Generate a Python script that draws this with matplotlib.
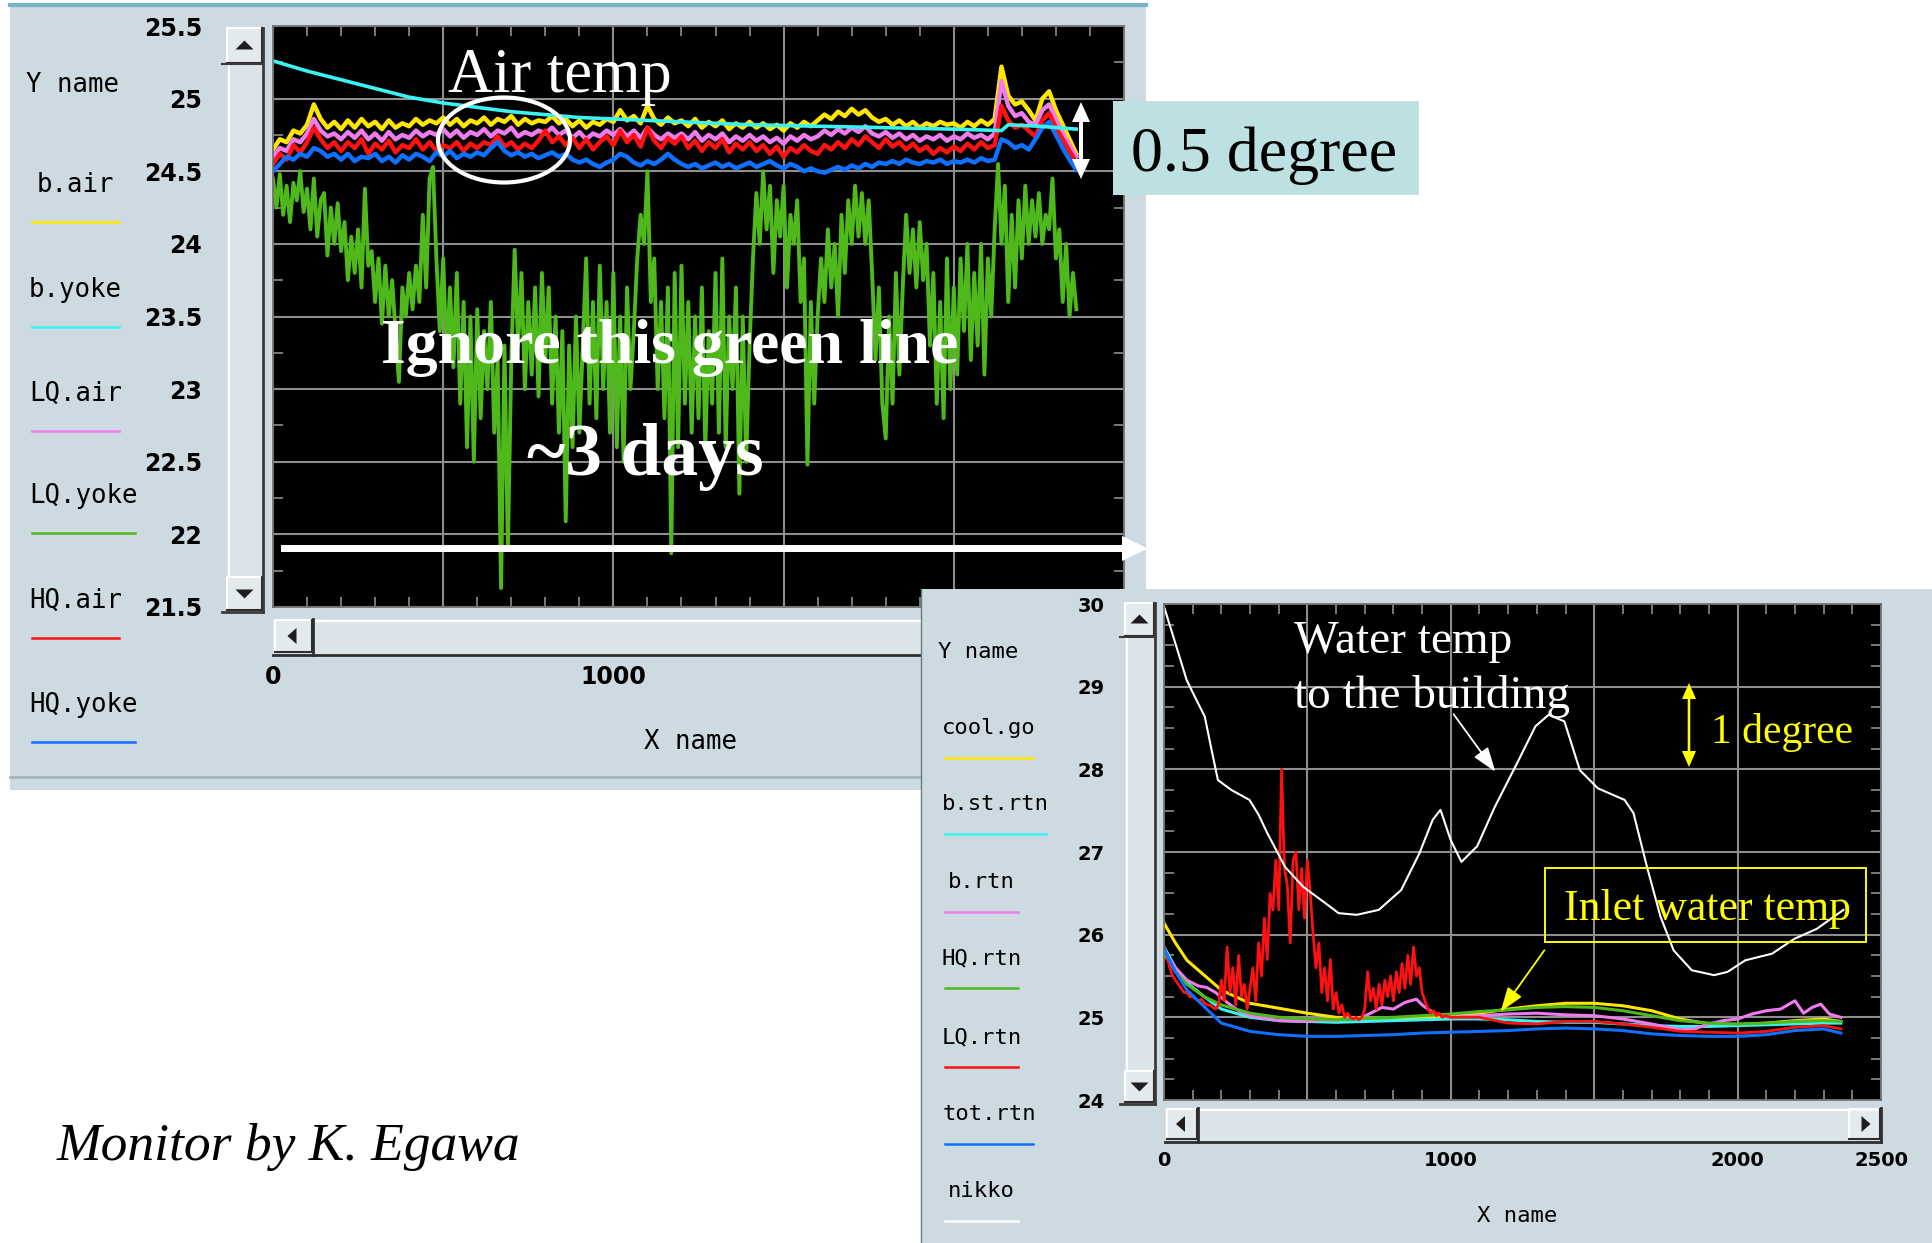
import matplotlib
matplotlib.use("Agg")
import matplotlib.pyplot as plt
from matplotlib.patches import Rectangle, Ellipse, Polygon, FancyArrowPatch
from matplotlib.ticker import MultipleLocator

W, H = 1932, 1243

# ---------------- upper monitor: air / yoke temperatures ----------------
AIR_X = list(range(0, 2361, 20))
B_AIR = [
    24.65, 24.72, 24.70, 24.78, 24.76, 24.82, 24.96, 24.86, 24.80, 24.84,
    24.79, 24.85, 24.80, 24.86, 24.81, 24.84, 24.79, 24.85, 24.80, 24.83,
    24.81, 24.86, 24.82, 24.85, 24.83, 24.87, 24.82, 24.86, 24.81, 24.85,
    24.83, 24.87, 24.82, 24.86, 24.84, 24.88, 24.82, 24.86, 24.83, 24.85,
    24.84, 24.88, 24.83, 24.86, 24.81, 24.85, 24.80, 24.84, 24.82, 24.86,
    24.84, 24.92, 24.85, 24.88, 24.83, 24.95, 24.86, 24.82, 24.87, 24.83,
    24.85, 24.81, 24.86, 24.80, 24.84, 24.81, 24.85, 24.79, 24.83, 24.80,
    24.84, 24.80, 24.83, 24.79, 24.82, 24.78, 24.83, 24.80, 24.84, 24.81,
    24.85, 24.89, 24.86, 24.91, 24.88, 24.93, 24.89, 24.92, 24.87, 24.84,
    24.86, 24.82, 24.85, 24.81, 24.84, 24.80, 24.83, 24.81, 24.84, 24.82,
    24.83, 24.80, 24.84, 24.81, 24.85, 24.82, 24.86, 25.22, 25.02, 24.96,
    24.98, 24.92, 24.85, 25.00, 25.05, 24.92, 24.82, 24.72, 24.62]
LQ_AIR = [
    24.60, 24.66, 24.64, 24.72, 24.70, 24.76, 24.86, 24.78, 24.74, 24.76,
    24.72, 24.77, 24.73, 24.78, 24.72, 24.76, 24.71, 24.77, 24.72, 24.75,
    24.73, 24.78, 24.74, 24.77, 24.75, 24.79, 24.74, 24.78, 24.73, 24.77,
    24.75, 24.79, 24.74, 24.78, 24.76, 24.80, 24.74, 24.77, 24.75, 24.78,
    24.76, 24.80, 24.75, 24.78, 24.73, 24.77, 24.72, 24.76, 24.74, 24.78,
    24.75, 24.79, 24.74, 24.78, 24.73, 24.80, 24.75, 24.72, 24.76, 24.73,
    24.76, 24.72, 24.77, 24.71, 24.75, 24.72, 24.76, 24.70, 24.74, 24.71,
    24.75, 24.71, 24.74, 24.70, 24.73, 24.69, 24.74, 24.71, 24.75, 24.72,
    24.74, 24.78, 24.75, 24.79, 24.76, 24.80, 24.77, 24.81, 24.76, 24.74,
    24.77, 24.73, 24.76, 24.72, 24.75, 24.71, 24.74, 24.72, 24.75, 24.71,
    24.74, 24.72, 24.76, 24.73, 24.75, 24.72, 24.76, 25.12, 24.95, 24.88,
    24.90, 24.84, 24.82, 24.92, 24.96, 24.86, 24.76, 24.68, 24.60]
HQ_AIR = [
    24.55, 24.62, 24.58, 24.68, 24.63, 24.70, 24.80, 24.72, 24.66, 24.70,
    24.64, 24.70, 24.66, 24.72, 24.62, 24.69, 24.65, 24.71, 24.63, 24.68,
    24.66, 24.72, 24.65, 24.70, 24.64, 24.68, 24.66, 24.70, 24.64, 24.69,
    24.66, 24.70, 24.68, 24.74, 24.67, 24.70, 24.65, 24.69, 24.66, 24.71,
    24.78, 24.70, 24.74, 24.68, 24.73, 24.66, 24.72, 24.65, 24.70, 24.74,
    24.68, 24.78, 24.70, 24.75, 24.67, 24.80, 24.71, 24.66, 24.73, 24.69,
    24.74, 24.66, 24.71, 24.64, 24.70, 24.66, 24.72, 24.63, 24.69, 24.65,
    24.70, 24.64, 24.68, 24.62, 24.67, 24.60, 24.66, 24.63, 24.68, 24.64,
    24.62, 24.68, 24.65, 24.70, 24.66, 24.72, 24.68, 24.74, 24.70, 24.66,
    24.72, 24.67, 24.70, 24.65, 24.69, 24.64, 24.67, 24.62, 24.66, 24.63,
    24.67, 24.64, 24.69, 24.65, 24.70, 24.66, 24.68, 24.95, 24.85, 24.80,
    24.82, 24.78, 24.74, 24.85, 24.90, 24.80, 24.72, 24.64, 24.56]
HQ_YOKE = [
    24.50, 24.55, 24.60, 24.58, 24.62, 24.60, 24.66, 24.64, 24.60, 24.62,
    24.58, 24.62, 24.57, 24.60, 24.59, 24.62, 24.57, 24.60, 24.56, 24.61,
    24.58, 24.62, 24.60, 24.57, 24.63, 24.60, 24.64, 24.59, 24.62, 24.60,
    24.63, 24.61, 24.66, 24.70, 24.64, 24.61, 24.63, 24.60, 24.62, 24.59,
    24.61, 24.63, 24.60, 24.62, 24.58, 24.56, 24.58, 24.55, 24.53, 24.56,
    24.58, 24.62, 24.60, 24.56, 24.54, 24.57, 24.55, 24.58, 24.62, 24.58,
    24.55, 24.53, 24.55, 24.52, 24.54, 24.56, 24.53, 24.55, 24.52, 24.54,
    24.56, 24.53, 24.55, 24.57, 24.54, 24.52, 24.55, 24.53, 24.50, 24.52,
    24.50, 24.49, 24.51, 24.53, 24.51, 24.54, 24.52, 24.55, 24.53, 24.56,
    24.55, 24.57, 24.55, 24.58, 24.56, 24.55, 24.57, 24.56, 24.58, 24.55,
    24.57, 24.56, 24.58, 24.56, 24.59, 24.57, 24.58, 24.72, 24.70, 24.66,
    24.68, 24.65, 24.72, 24.80, 24.84, 24.75, 24.66, 24.58, 24.51]
YOKE_X = list(range(0, 2361, 10))
LQ_YOKE = [
    24.45, 24.25, 24.48, 24.20, 24.40, 24.15, 24.42, 24.30, 24.50, 24.22,
    24.38, 24.10, 24.45, 24.05, 24.30, 24.35, 23.92, 24.25, 24.00, 24.28,
    23.95, 24.15, 23.75, 24.05, 23.80, 24.10, 23.70, 24.38, 23.85, 23.95,
    23.60, 23.90, 23.45, 23.85, 23.50, 23.75, 23.40, 23.05, 23.70, 23.50,
    23.80, 23.55, 23.85, 23.60, 24.20, 23.70, 24.45, 24.53, 23.90, 23.40,
    23.90, 23.20, 23.70, 23.15, 23.80, 22.90, 23.60, 22.60, 23.50, 22.50,
    23.55, 22.80, 23.40, 23.00, 23.60, 22.70, 23.20, 21.63, 23.30, 21.90,
    23.20, 23.96, 23.30, 23.80, 23.00, 23.60, 23.10, 23.70, 22.95, 23.80,
    23.20, 23.70, 22.90, 23.50, 22.70, 23.40, 22.09, 23.30, 22.60, 23.50,
    22.70, 23.30, 23.90, 22.90, 23.60, 22.80, 23.85, 23.00, 23.60, 22.70,
    23.80, 22.60, 23.50, 22.50, 23.70, 23.00, 23.40, 23.90, 24.20, 24.00,
    24.50, 23.60, 23.90, 23.00, 23.60, 22.80, 23.70, 21.87, 23.80, 22.60,
    23.85, 22.90, 23.60, 22.70, 23.50, 22.80, 23.70, 22.60, 23.40, 22.90,
    23.80, 22.70, 23.90, 22.60, 23.50, 23.00, 23.70, 22.28, 23.50, 22.50,
    23.30, 23.90, 24.35, 24.00, 24.50, 24.10, 24.40, 23.80, 24.30, 24.05,
    24.40, 23.70, 24.20, 24.00, 24.30, 23.60, 23.90, 22.48, 23.60, 22.90,
    23.50, 23.90, 23.60, 24.10, 23.70, 24.00, 23.50, 24.20, 23.80, 24.30,
    24.00, 24.40, 24.05, 24.35, 24.00, 24.30, 23.80, 23.20, 23.70, 22.90,
    22.66, 23.50, 22.90, 23.80, 23.10, 23.70, 24.20, 23.80, 24.10, 23.70,
    24.15, 23.75, 24.00, 23.30, 23.80, 22.90, 23.60, 22.80, 23.90, 23.00,
    23.70, 23.10, 23.90, 23.40, 24.00, 23.20, 23.80, 23.30, 24.00, 23.10,
    23.90, 23.50, 24.10, 24.55, 24.00, 24.40, 23.60, 24.20, 23.70, 24.30,
    23.90, 24.40, 24.00, 24.30, 24.05, 24.35, 24.00, 24.20, 24.10, 24.45,
    23.90, 24.10, 23.60, 24.00, 23.50, 23.80, 23.55]
B_YOKE_X = [0, 100, 200, 300, 400, 500, 600, 700, 800, 900, 1000, 1200,
            1400, 1600, 1800, 2000, 2140, 2160, 2250, 2360]
B_YOKE = [25.26, 25.19, 25.13, 25.07, 25.01, 24.97, 24.94, 24.91, 24.89, 24.87,
          24.86, 24.84, 24.82, 24.81, 24.80, 24.79, 24.78, 24.82, 24.81, 24.79]
TOP_NAMES = ["b.air", "b.yoke", "LQ.air", "LQ.yoke", "HQ.air", "HQ.yoke"]
TOP_COLORS = ["#ffe600", "#3af2f2", "#ee7cee", "#4fb81a", "#ff1111", "#1070ff"]
TOP_XTICKS = [0, 500, 1000, 1500, 2000, 2500]
TOP_XLABELS = ["0", "", "1000", "", "2000", ""]
TOP_YTICKS = [21.5, 22.0, 22.5, 23.0, 23.5, 24.0, 24.5, 25.0, 25.5]
TOP_YLABELS = ["21.5", "22", "22.5", "23", "23.5", "24", "24.5", "25", "25.5"]

# ---------------- lower monitor: water temperatures ----------------
RTN_X = [0, 40, 80, 140, 200, 300, 400, 500, 600, 700, 800, 900, 1000, 1100,
         1200, 1300, 1400, 1500, 1600, 1700, 1800, 1900, 2000, 2100, 2200, 2300, 2360]
COOL_GO = [26.14, 25.90, 25.69, 25.51, 25.33, 25.17, 25.11, 25.05, 25.00, 24.99,
           24.99, 25.00, 25.02, 25.05, 25.10, 25.14, 25.17, 25.17, 25.14, 25.08,
           24.98, 24.92, 24.91, 24.93, 24.96, 24.98, 24.95]
HQ_RTN = [25.77, 25.55, 25.40, 25.25, 25.15, 25.05, 25.00, 24.98, 24.97, 24.99,
          25.00, 25.02, 25.04, 25.07, 25.09, 25.12, 25.13, 25.12, 25.08, 25.02,
          24.96, 24.93, 24.92, 24.93, 24.95, 24.96, 24.95]
B_ST_RTN = [25.85, 25.60, 25.42, 25.25, 25.10, 25.00, 24.96, 24.95, 24.94, 24.95,
            24.96, 24.97, 24.98, 24.98, 24.97, 24.95, 24.94, 24.94, 24.92, 24.90,
            24.89, 24.89, 24.90, 24.91, 24.92, 24.93, 24.93]
TOT_RTN = [25.83, 25.55, 25.33, 25.13, 24.93, 24.83, 24.79, 24.77, 24.77, 24.78,
           24.79, 24.81, 24.82, 24.83, 24.84, 24.86, 24.87, 24.86, 24.84, 24.80,
           24.78, 24.77, 24.77, 24.79, 24.84, 24.86, 24.81]
B_RTN_X = [0, 40, 80, 120, 150, 180, 220, 260, 300, 400, 500, 560, 600, 640, 680,
           720, 760, 800, 840, 880, 900, 940, 1000, 1100, 1200, 1300, 1400, 1500,
           1600, 1700, 1800, 1850, 1900, 1950, 2000, 2050, 2100, 2150, 2200, 2230,
           2260, 2290, 2320, 2360]
B_RTN = [25.80, 25.60, 25.45, 25.38, 25.36, 25.30, 25.18, 25.08, 25.02, 24.96,
         24.95, 24.97, 24.96, 25.00, 24.98, 25.05, 25.12, 25.10, 25.18, 25.22,
         25.15, 25.05, 25.00, 25.02, 25.04, 25.05, 25.03, 25.02, 24.98, 24.92,
         24.85, 24.86, 24.92, 24.96, 24.98, 25.04, 25.08, 25.10, 25.20, 25.05,
         25.12, 25.16, 25.04, 25.00]
LQ_RTN_X = list(range(0, 981, 10)) + list(range(1000, 2301, 100)) + [2360]
LQ_RTN = [
    25.85, 25.75, 25.60, 25.50, 25.45, 25.40, 25.35, 25.30, 25.30, 25.25,
    25.25, 25.22, 25.20, 25.22, 25.18, 25.15, 25.15, 25.12, 25.10, 25.15,
    25.45, 25.20, 25.85, 25.30, 25.60, 25.15, 25.75, 25.25, 25.40, 25.10,
    25.35, 25.60, 25.20, 25.90, 25.50, 26.20, 25.70, 26.50, 26.30, 26.90,
    26.30, 28.00, 26.80, 26.60, 25.90, 26.90, 27.00, 26.30, 26.80, 26.20,
    26.90, 26.50, 26.00, 25.60, 25.90, 25.30, 25.60, 25.20, 25.70, 25.10,
    25.30, 25.05, 25.15, 25.00, 25.05, 25.00, 24.98, 25.00, 24.97, 25.00,
    25.10, 25.55, 25.20, 25.35, 25.10, 25.40, 25.15, 25.45, 25.25, 25.50,
    25.20, 25.55, 25.30, 25.65, 25.35, 25.75, 25.40, 25.85, 25.50, 25.60,
    25.30, 25.20, 25.10, 25.05, 25.08, 25.02, 25.05, 25.00, 25.02,
    25.00, 25.00, 24.93, 24.92, 24.95, 24.95, 24.92, 24.88, 24.83, 24.82,
    24.81, 24.83, 24.88, 24.90, 24.86]
NIKKO_X = [0, 40, 79, 110, 142, 165, 188, 235, 298, 330, 360, 422, 485, 563, 609,
           672, 749, 827, 890, 937, 964, 999, 1037, 1092, 1154, 1232, 1295, 1341,
           1396, 1450, 1513, 1606, 1637, 1684, 1731, 1777, 1840, 1918, 1965, 2027,
           2120, 2198, 2276, 2369]
NIKKO = [29.97, 29.52, 29.08, 28.86, 28.64, 28.25, 27.87, 27.75, 27.63, 27.45,
         27.23, 26.82, 26.58, 26.38, 26.26, 26.24, 26.30, 26.54, 26.98, 27.39,
         27.51, 27.15, 26.88, 27.07, 27.55, 28.08, 28.52, 28.66, 28.58, 27.99,
         27.77, 27.63, 27.47, 26.82, 26.22, 25.81, 25.57, 25.51, 25.55, 25.69,
         25.77, 25.95, 26.07, 26.30]
BOT_NAMES = ["cool.go", "b.st.rtn", "b.rtn", "HQ.rtn", "LQ.rtn", "tot.rtn", "nikko"]
BOT_COLORS = ["#ffe600", "#3af2f2", "#ee7cee", "#4fb81a", "#ff1111", "#1070ff", "#ffffff"]
BOT_XTICKS = [0, 500, 1000, 1500, 2000, 2500]
BOT_XLABELS = ["0", "", "1000", "", "2000", "2500"]
BOT_YTICKS = [24, 25, 26, 27, 28, 29, 30]
BOT_YLABELS = ["24", "25", "26", "27", "28", "29", "30"]

# ---------------- figure helpers ----------------
BG = "#cddae1"
TROUGH = "#dbe4e9"
MONO = "DejaVu Sans Mono"
SERIF = "Liberation Serif"

fig = plt.figure(figsize=(W / 100, H / 100), dpi=100)
fig.patch.set_facecolor("white")


def rect(x0, y0, x1, y1):
    return [x0 / W, 1 - y1 / H, (x1 - x0) / W, (y1 - y0) / H]


def canvas(z):
    c = fig.add_axes([0, 0, 1, 1], zorder=z)
    c.set_xlim(0, W)
    c.set_ylim(H, 0)
    c.axis("off")
    c.patch.set_alpha(0)
    return c


def button(c, x0, y0, x1, y1, kind):
    c.add_patch(Rectangle((x0, y0), x1 - x0, y1 - y0, fc="#e3eaee", ec="none"))
    c.plot([x0, x0, x1], [y1, y0, y0], color="white", lw=1.5)
    c.plot([x0, x1, x1], [y1, y1, y0], color="#2e2e2e", lw=1.5)
    cx, cy = (x0 + x1) / 2, (y0 + y1) / 2
    if kind == "up":
        pts = [(cx - 9, cy + 4), (cx + 9, cy + 4), (cx, cy - 5)]
    elif kind == "down":
        pts = [(cx - 9, cy - 4), (cx + 9, cy - 4), (cx, cy + 5)]
    elif kind == "left":
        pts = [(cx + 3, cy - 8), (cx + 3, cy + 8), (cx - 6, cy)]
    else:
        pts = [(cx - 3, cy - 8), (cx - 3, cy + 8), (cx + 6, cy)]
    c.add_patch(Polygon(pts, closed=True, fc="#1e1e1e", ec="none"))


def vscroll(c, x0, x1, y0, y1, bh):
    c.add_patch(Rectangle((x0, y0), x1 - x0, y1 - y0, fc=TROUGH, ec="none"))
    c.plot([x0 + 2, x0 + 2], [y0 + bh + 2, y1 - bh - 2], color="white", lw=1.5)
    button(c, x0, y0, x1 - 1, y0 + bh, "up")
    button(c, x0, y1 - bh, x1 - 1, y1 - 2, "down")
    c.plot([x1, x1], [y0, y1], color="#3a3a3a", lw=2)
    c.plot([x0 - 5, x1], [y0 + bh + 1, y0 + bh + 1], color="#3a3a3a", lw=1.5)
    c.plot([x0 - 5, x1], [y1, y1], color="#3a3a3a", lw=2)


def hscroll(c, x0, x1, y0, y1, bw, right_button):
    c.add_patch(Rectangle((x0, y0), x1 - x0, y1 - y0, fc=TROUGH, ec="none"))
    c.plot([x0 + bw + 2, x1 - 2], [y0 + 2, y0 + 2], color="white", lw=1.5)
    button(c, x0 + 2, y0 + 1, x0 + bw, y1 - 3, "left")
    c.plot([x0 + bw + 1, x0 + bw + 1], [y0, y1], color="#2e2e2e", lw=2)
    if right_button:
        button(c, x1 - bw, y0 + 1, x1 - 1, y1 - 3, "right")
        c.plot([x1, x1], [y0, y1], color="#2e2e2e", lw=2)
    c.plot([x0, x1], [y1, y1], color="#2e2e2e", lw=2)


def style_axes(ax, xticks, xlabels, yticks, ylabels, xminor, yminor, fs, xpad, ypad):
    ax.set_facecolor("black")
    ax.set_xticks(xticks, xlabels, fontsize=fs, fontweight="bold", family="DejaVu Sans")
    ax.set_yticks(yticks, ylabels, fontsize=fs, fontweight="bold", family="DejaVu Sans")
    ax.xaxis.set_minor_locator(MultipleLocator(xminor))
    ax.yaxis.set_minor_locator(MultipleLocator(yminor))
    ax.grid(True, which="major", color="#8e8e8e", lw=1.5)
    ax.set_axisbelow(True)
    ax.tick_params(which="major", length=0)
    ax.tick_params(axis="x", which="major", pad=xpad)
    ax.tick_params(axis="y", which="major", pad=ypad)
    ax.tick_params(which="minor", direction="in", length=7, width=1.1,
                   color="#9a9a9a", top=True, right=True, bottom=True, left=True)
    for s in ax.spines.values():
        s.set_color("#6a6a6a")
        s.set_linewidth(1.2)


# ================= upper window =================
c1 = canvas(0.5)
c1.add_patch(Rectangle((10, 6), 1136, 784, fc=BG, ec="none"))
c1.plot([10, 1146], [5, 5], color="#78b4c8", lw=3)
c1.plot([10, 1146], [777, 777], color="#a3b3bb", lw=2)
vscroll(c1, 227, 263, 28, 612, 35)
hscroll(c1, 273, 1124, 619, 655, 39, False)

ytxt = [85, 185, 290, 394, 496, 601, 705]
c1.text(73, ytxt[0], "Y name", family=MONO, fontsize=18.5, ha="center", va="center")
for i, (nm, col) in enumerate(zip(TOP_NAMES, TOP_COLORS)):
    ln = 87 if len(nm) <= 6 else 103
    c1.text(32 + ln / 2, ytxt[i + 1], nm, family=MONO, fontsize=18.5, ha="center", va="center")
    c1.plot([32, 32 + ln], [ytxt[i + 1] + 37, ytxt[i + 1] + 37], color=col, lw=1.8)
c1.text(691, 742, "X name", family=MONO, fontsize=18.5, ha="center", va="center")

ax1 = fig.add_axes(rect(273, 26, 1124, 607), zorder=1)
ax1.plot(YOKE_X, LQ_YOKE, color=TOP_COLORS[3], lw=2.8)
ax1.plot(AIR_X, B_AIR, color=TOP_COLORS[0], lw=3.2)
ax1.plot(AIR_X, LQ_AIR, color=TOP_COLORS[2], lw=3.2)
ax1.plot(AIR_X, HQ_AIR, color=TOP_COLORS[4], lw=3.2)
ax1.plot(AIR_X, HQ_YOKE, color=TOP_COLORS[5], lw=3.2)
ax1.plot(B_YOKE_X, B_YOKE, color=TOP_COLORS[1], lw=2.6)
ax1.set_xlim(0, 2500)
ax1.set_ylim(21.5, 25.5)
style_axes(ax1, TOP_XTICKS, TOP_XLABELS, TOP_YTICKS, TOP_YLABELS, 100, 0.25, 17, 42, 51)

# overlay annotations on upper window
c1b = canvas(1.5)
c1b.text(560, 92, "Air temp", family=SERIF, fontsize=45, color="white", ha="center", va="baseline")
c1b.add_patch(Ellipse((504, 140), 132, 85, fill=False, ec="white", lw=3))
c1b.text(670, 363, "Ignore this green line", family=SERIF, fontweight="bold", fontsize=46,
         color="white", ha="center", va="baseline")
c1b.text(645, 475, "~3 days", family=SERIF, fontweight="bold", fontsize=53,
         color="white", ha="center", va="baseline")
c1b.add_patch(Polygon([(281, 545), (1122, 545), (1122, 536), (1148, 548.5), (1122, 561),
                       (1122, 552), (281, 552)], closed=True, fc="white", ec="none"))
c1b.add_patch(Polygon([(1081, 102), (1090, 122), (1083, 122), (1083, 159), (1090, 159),
                       (1081, 179), (1072, 159), (1079, 159), (1079, 122), (1072, 122)],
                      closed=True, fc="white", ec="none"))
c1b.add_patch(Rectangle((1113, 101), 306, 94, fc="#bde0e3", ec="none"))
c1b.text(1131, 171, "0.5 degree", family=SERIF, fontsize=46, color="black", ha="left", va="baseline")
c1b.text(57, 1160, "Monitor by K. Egawa", family=SERIF, style="italic", fontsize=38.5,
         color="black", ha="left", va="baseline")

# ================= lower window =================
c2 = canvas(2)
c2.add_patch(Rectangle((921, 589), 1011, 654, fc=BG, ec="none"))
c2.plot([921, 921], [589, 1243], color="#6a7a82", lw=1)
vscroll(c2, 1125, 1155, 603, 1104, 33)
hscroll(c2, 1165, 1881, 1108, 1142, 32, True)

ytxt2 = [652, 728, 804, 882, 958, 1037, 1114, 1191]
c2.text(978, ytxt2[0], "Y name", family=MONO, fontsize=16, ha="center", va="center")
for i, (nm, col) in enumerate(zip(BOT_NAMES, BOT_COLORS)):
    ln = 73 if len(nm) <= 6 else (88 if len(nm) == 7 else 101)
    c2.text(945 + ln / 2, ytxt2[i + 1], nm, family=MONO, fontsize=16, ha="center", va="center")
    c2.plot([945, 945 + ln], [ytxt2[i + 1] + 30, ytxt2[i + 1] + 30], color=col, lw=1.8)
c2.text(1517, 1216, "X name", family=MONO, fontsize=16, ha="center", va="center")

ax2 = fig.add_axes(rect(1164, 604, 1881, 1100), zorder=3)
ax2.plot(RTN_X, COOL_GO, color=BOT_COLORS[0], lw=2.2)
ax2.plot(RTN_X, B_ST_RTN, color=BOT_COLORS[1], lw=2.2)
ax2.plot(B_RTN_X, B_RTN, color=BOT_COLORS[2], lw=2.2)
ax2.plot(RTN_X, HQ_RTN, color=BOT_COLORS[3], lw=2.2)
ax2.plot(LQ_RTN_X, LQ_RTN, color=BOT_COLORS[4], lw=2.0)
ax2.plot(RTN_X, TOT_RTN, color=BOT_COLORS[5], lw=2.2)
ax2.plot(NIKKO_X, NIKKO, color=BOT_COLORS[6], lw=1.5)
ax2.set_xlim(0, 2500)
ax2.set_ylim(24, 30)
style_axes(ax2, BOT_XTICKS, BOT_XLABELS, BOT_YTICKS, BOT_YLABELS, 100, 0.25, 14, 37, 43)

# overlay annotations on lower window
c4 = canvas(4)
c4.text(1294, 653, "Water temp", family=SERIF, fontsize=34, color="white", ha="left", va="baseline")
c4.text(1294, 708, "to the building", family=SERIF, fontsize=34, color="white", ha="left", va="baseline")
c4.add_patch(FancyArrowPatch((1452, 712), (1497, 774),
                             arrowstyle="-|>,head_length=1.0,head_width=0.35",
                             mutation_scale=15, color="white", lw=1.3))
c4.add_patch(Polygon([(1689, 683), (1696, 699), (1690.3, 699), (1690.3, 751), (1696, 751),
                      (1689, 767), (1682, 751), (1687.7, 751), (1687.7, 699), (1682, 699)],
                     closed=True, fc="#ffff00", ec="none"))
c4.text(1711, 743, "1 degree", family=SERIF, fontsize=30, color="#ffff00", ha="left", va="baseline")
c4.add_patch(Rectangle((1545, 868), 321, 74, fill=False, ec="#ffff00", lw=1.4))
c4.text(1564, 920, "Inlet water temp", family=SERIF, fontsize=31.5, color="#ffff00",
        ha="left", va="baseline")
c4.add_patch(FancyArrowPatch((1546, 948), (1499, 1014),
                             arrowstyle="-|>,head_length=1.0,head_width=0.35",
                             mutation_scale=15, color="#ffff00", lw=1.3))

fig.savefig("out.png", dpi=100)
